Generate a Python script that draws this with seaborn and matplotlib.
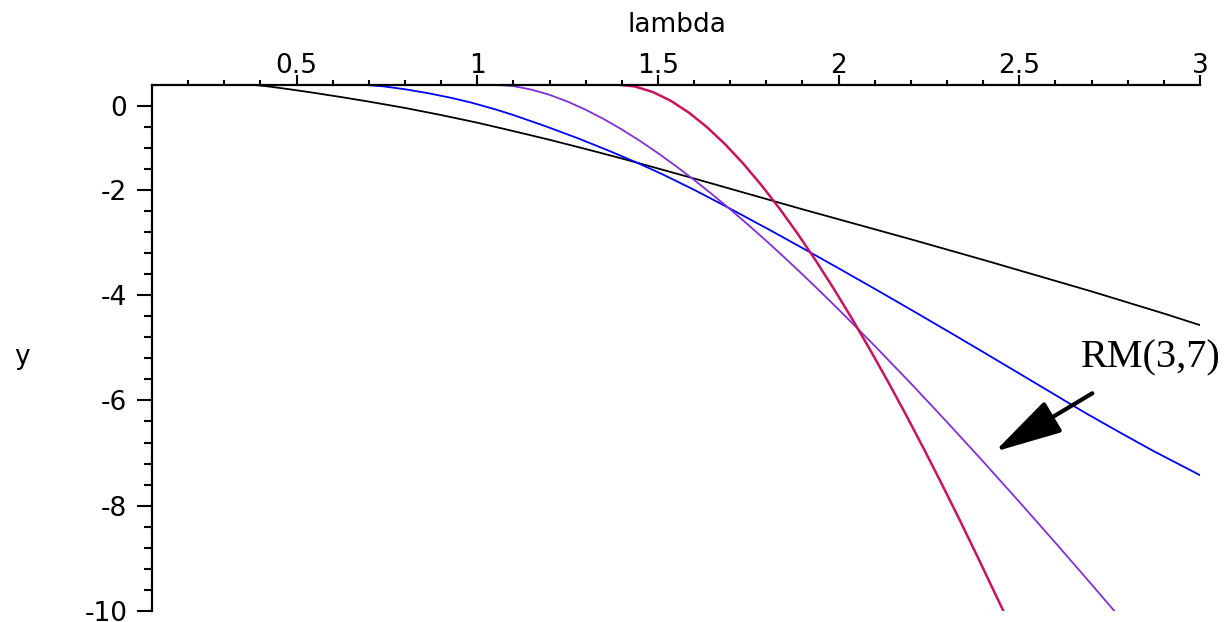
import numpy as np
import pandas as pd
import matplotlib
matplotlib.use("Agg")
import matplotlib.pyplot as plt
import seaborn as sns

# ---- data ----
black_x = [0.371, 0.42, 0.48, 0.55, 0.62, 0.70, 0.80, 0.90, 1.00, 1.10, 1.20, 1.30, 1.40, 1.50,
           1.60, 1.70, 1.80, 1.90, 2.00, 2.10, 2.20, 2.30, 2.40, 2.50, 2.60, 2.70, 2.80, 2.90, 3.00]
black_y = [0.0, -0.035, -0.09, -0.16, -0.235, -0.325, -0.445, -0.58, -0.725, -0.885, -1.05, -1.225,
           -1.405, -1.595, -1.785, -1.98, -2.175, -2.37, -2.56, -2.75, -2.94, -3.135, -3.33, -3.53,
           -3.73, -3.93, -4.14, -4.35, -4.57]

blue_x = [0.675, 0.74, 0.80, 0.864, 0.929, 0.984, 1.049, 1.10, 1.188, 1.280, 1.372, 1.437,
          1.511, 1.603, 1.695, 1.815, 1.908, 2.000, 2.092, 2.185, 2.314, 2.406, 2.499, 2.591,
          2.683, 2.776, 2.868, 3.000]
blue_y = [0.0, -0.035, -0.09, -0.165, -0.255, -0.345, -0.47, -0.58, -0.79, -1.025, -1.28, -1.47,
          -1.70, -2.01, -2.34, -2.784, -3.137, -3.491, -3.85, -4.217, -4.733, -5.106, -5.485, -5.862,
          -6.239, -6.60, -6.95, -7.42]

purple_x = [1.04, 1.10, 1.15, 1.20, 1.25, 1.30, 1.35, 1.40, 1.45, 1.50, 1.55, 1.60, 1.65, 1.70,
            1.75, 1.80, 1.85, 1.90, 1.95, 2.00, 2.10, 2.20, 2.30, 2.40, 2.50, 2.60, 2.70, 2.763]
purple_y = [0.0, -0.030, -0.097, -0.196, -0.325, -0.479, -0.656, -0.854, -1.070, -1.303, -1.551,
            -1.812, -2.086, -2.371, -2.667, -2.971, -3.285, -3.607, -3.937, -4.273, -4.965, -5.678,
            -6.412, -7.162, -7.927, -8.705, -9.495, -10.0]

red_x = [1.386, 1.436, 1.486, 1.536, 1.586, 1.636, 1.686, 1.736, 1.786, 1.836, 1.886, 1.936,
         1.986, 2.036, 2.086, 2.136, 2.186, 2.236, 2.286, 2.336, 2.386, 2.436, 2.456]
red_y = [0.0, -0.037, -0.143, -0.311, -0.536, -0.812, -1.135, -1.502, -1.909, -2.352, -2.828,
         -3.336, -3.873, -4.436, -5.025, -5.636, -6.269, -6.923, -7.595, -8.285, -8.992, -9.714, -10.0]

x_major = [0.5, 1.0, 1.5, 2.0, 2.5, 3.0]
x_major_labels = ["0.5", "1", "1.5", "2", "2.5", "3"]
y_major = [-0.4, -2, -4, -6, -8, -10]
y_major_labels = ["0", "-2", "-4", "-6", "-8", "-10"]

annot_text = "RM(3,7)"

series_names = ["s1", "s2", "s3", "s4"]
series_colors = ["#000000", "#0000FF", "#8030D8", "#C8145F"]

frames = []
for name, xs, ys in zip(series_names,
                        [black_x, blue_x, purple_x, red_x],
                        [black_y, blue_y, purple_y, red_y]):
    frames.append(pd.DataFrame({"lambda": xs, "y": ys, "series": name}))
df = pd.concat(frames, ignore_index=True)

sns.set_style("white")
plt.rcParams["font.family"] = ["DejaVu Sans"]
plt.rcParams.update({"text.color": "black", "axes.labelcolor": "black",
                     "xtick.color": "black", "ytick.color": "black"})

fig = plt.figure(figsize=(12.27, 6.22), dpi=100)
ax = fig.add_axes([152 / 1227, 1 - 611 / 622, 1048 / 1227, 526.5 / 622])

sns.lineplot(data=df, x="lambda", y="y", hue="series", palette=dict(zip(series_names, series_colors)),
             estimator=None, sort=False, legend=False, linewidth=1.3, ax=ax)
ax.lines[3].set_linewidth(1.8)

ax.set_xlim(0.1, 3.0)
ax.set_ylim(-10, 0)

for s in ["bottom", "right"]:
    ax.spines[s].set_visible(False)
for s in ["top", "left"]:
    ax.spines[s].set_visible(True)
    ax.spines[s].set_linewidth(1.6)
    ax.spines[s].set_color("black")

ax.xaxis.tick_top()
ax.set_xticks(x_major)
ax.set_xticklabels(x_major_labels)
ax.set_xticks(np.round(np.arange(0.2, 3.0, 0.1), 2), minor=True)
ax.set_yticks(y_major)
ax.set_yticklabels(y_major_labels)
ax.set_yticks([v for v in np.round(np.arange(-0.8, -10.0, -0.4), 2)
               if not any(abs(v - m) < 1e-6 for m in y_major)], minor=True)

ax.tick_params(axis="x", which="major", direction="out", length=7.5, width=1.5, pad=-3.5,
               labelsize=19, top=True, bottom=False, labeltop=True, labelbottom=False,
               colors="black")
ax.tick_params(axis="x", which="minor", direction="out", length=3.3, width=1.5, top=True,
               bottom=False, colors="black")
ax.tick_params(axis="y", which="major", direction="out", length=10.8, width=1.5, pad=7,
               labelsize=19, left=True, right=False, colors="black")
ax.tick_params(axis="y", which="minor", direction="out", length=5.8, width=1.5, left=True,
               right=False, colors="black")

ax.xaxis.set_label_position("top")
ax.set_xlabel("lambda", fontsize=19)
ax.xaxis.set_label_coords(0.501, 1.1, transform=ax.transAxes)
ax.xaxis.label.set_va("baseline")
ax.set_ylabel("y", fontsize=19, rotation=0)
ax.yaxis.set_label_coords(-0.124, 0.482)
ax.yaxis.label.set_va("center")
ax.yaxis.label.set_ha("center")

ax.annotate("", xy=(2.432, -6.974), xytext=(2.702, -5.865), textcoords="data",
            arrowprops=dict(arrowstyle="-|>,head_length=2.1,head_width=0.55", mutation_scale=20,
                            lw=3, color="black", shrinkA=0, shrinkB=0))
ax.text(2.864, -5.2, annot_text, fontsize=29, family=["Liberation Serif", "DejaVu Serif"],
        ha="center", va="center", color="black", clip_on=False)

ax.set_facecolor("white")
fig.patch.set_facecolor("white")
fig.savefig("out.png", dpi=100, facecolor="white")
